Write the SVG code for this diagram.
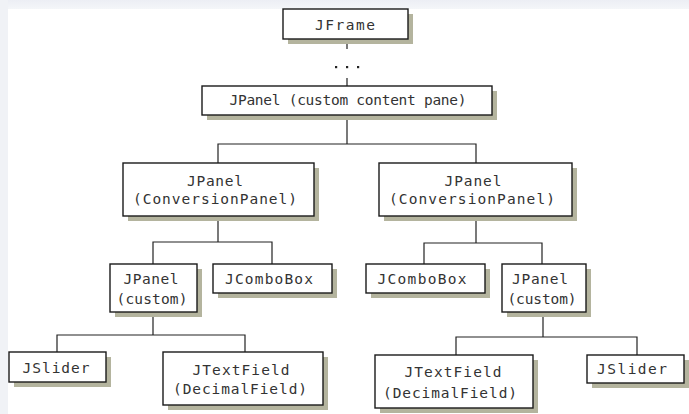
<svg xmlns="http://www.w3.org/2000/svg" width="689" height="414" viewBox="0 0 689 414">
  <style>
    .box { fill: #ffffff; stroke: #1a1a1a; stroke-width: 1.4; }
    .shadow { fill: #b4b49e; }
    .lbl { font-family: "DejaVu Sans Mono", "Liberation Mono", monospace; font-size: 14.5px; fill: #333333; text-anchor: middle; }
    .conn { fill: none; stroke: #222222; stroke-width: 1.2; }
  </style>
  <defs>
    <linearGradient id="edgeTop" x1="0" y1="0" x2="0" y2="1">
      <stop offset="0" stop-color="#eceef4"/>
      <stop offset="1" stop-color="#f4f6f9"/>
    </linearGradient>
  </defs>

  <!-- page -->
  <rect x="0" y="0" width="689" height="414" fill="#ffffff"/>
  <rect x="0" y="0" width="689" height="9" fill="url(#edgeTop)"/>
  <rect x="0" y="0" width="8" height="414" fill="#f0f2f6"/>

  <!-- connectors -->
  <g id="connectors">
    <path class="conn" d="M347 39 V49 M347 78 V86"/>
    <rect x="335" y="66" width="2.2" height="2.2" fill="#222"/>
    <rect x="346" y="66" width="2.2" height="2.2" fill="#222"/>
    <rect x="357" y="66" width="2.2" height="2.2" fill="#222"/>
    <path class="conn" d="M347 115 V144 M218 163 V144 H476 V163"/>
    <path class="conn" d="M218 216 V242 M153 264 V242 H272 V264"/>
    <path class="conn" d="M476 216 V243 M424 264 V243 H542 V264"/>
    <path class="conn" d="M153 312 V335 M57 352 V335 H245 V352"/>
    <path class="conn" d="M543 312 V337 M456 355 V337 H637 V355"/>
  </g>

  <g id="jframe">
    <rect class="shadow" x="288" y="14" width="125" height="30"/>
    <rect class="box" x="283" y="9" width="125" height="30"/>
    <text class="lbl" x="345" y="30" textLength="60" lengthAdjust="spacing">JFrame</text>
  </g>

  <g id="contentpane">
    <rect class="shadow" x="207" y="91" width="290" height="29"/>
    <rect class="box" x="202" y="86" width="290" height="29"/>
    <text class="lbl" x="348" y="105" textLength="237" lengthAdjust="spacing">JPanel (custom content pane)</text>
  </g>

  <g id="conversion-left">
    <rect class="shadow" x="128" y="168" width="191" height="53"/>
    <rect class="box" x="123" y="163" width="191" height="53"/>
    <text class="lbl" x="215" y="186" textLength="56" lengthAdjust="spacing">JPanel</text>
    <text class="lbl" x="215" y="204" textLength="164" lengthAdjust="spacing">(ConversionPanel)</text>
  </g>

  <g id="conversion-right">
    <rect class="shadow" x="384" y="168" width="193" height="53"/>
    <rect class="box" x="379" y="163" width="193" height="53"/>
    <text class="lbl" x="473" y="186" textLength="57" lengthAdjust="spacing">JPanel</text>
    <text class="lbl" x="472" y="204" textLength="166" lengthAdjust="spacing">(ConversionPanel)</text>
  </g>

  <g id="custom-left">
    <rect class="shadow" x="115" y="269" width="87" height="48"/>
    <rect class="box" x="110" y="264" width="87" height="48"/>
    <text class="lbl" x="151" y="284" textLength="55" lengthAdjust="spacing">JPanel</text>
    <text class="lbl" x="152" y="304" textLength="71" lengthAdjust="spacing">(custom)</text>
  </g>

  <g id="combobox-left">
    <rect class="shadow" x="218" y="269" width="119" height="29"/>
    <rect class="box" x="213" y="264" width="119" height="29"/>
    <text class="lbl" x="269" y="284" textLength="88" lengthAdjust="spacing">JComboBox</text>
  </g>

  <g id="combobox-right">
    <rect class="shadow" x="371" y="269" width="119" height="29"/>
    <rect class="box" x="366" y="264" width="119" height="29"/>
    <text class="lbl" x="422" y="284" textLength="89" lengthAdjust="spacing">JComboBox</text>
  </g>

  <g id="custom-right">
    <rect class="shadow" x="507" y="269" width="84" height="48"/>
    <rect class="box" x="502" y="264" width="84" height="48"/>
    <text class="lbl" x="540" y="284" textLength="56" lengthAdjust="spacing">JPanel</text>
    <text class="lbl" x="542" y="304" textLength="69" lengthAdjust="spacing">(custom)</text>
  </g>

  <g id="slider-left">
    <rect class="shadow" x="14" y="357" width="97" height="30"/>
    <rect class="box" x="9" y="352" width="97" height="30"/>
    <text class="lbl" x="56" y="373" textLength="67" lengthAdjust="spacing">JSlider</text>
  </g>

  <g id="textfield-left">
    <rect class="shadow" x="168" y="357" width="160" height="53"/>
    <rect class="box" x="163" y="352" width="160" height="53"/>
    <text class="lbl" x="241" y="375" textLength="97" lengthAdjust="spacing">JTextField</text>
    <text class="lbl" x="240" y="394" textLength="134" lengthAdjust="spacing">(DecimalField)</text>
  </g>

  <g id="textfield-right">
    <rect class="shadow" x="380" y="360" width="158" height="53"/>
    <rect class="box" x="375" y="355" width="158" height="53"/>
    <text class="lbl" x="453" y="377" textLength="97" lengthAdjust="spacing">JTextField</text>
    <text class="lbl" x="450" y="398" textLength="134" lengthAdjust="spacing">(DecimalField)</text>
  </g>

  <g id="slider-right">
    <rect class="shadow" x="592" y="360" width="97" height="28"/>
    <rect class="box" x="587" y="355" width="97" height="28"/>
    <text class="lbl" x="632" y="374" textLength="70" lengthAdjust="spacing">JSlider</text>
  </g>
</svg>
